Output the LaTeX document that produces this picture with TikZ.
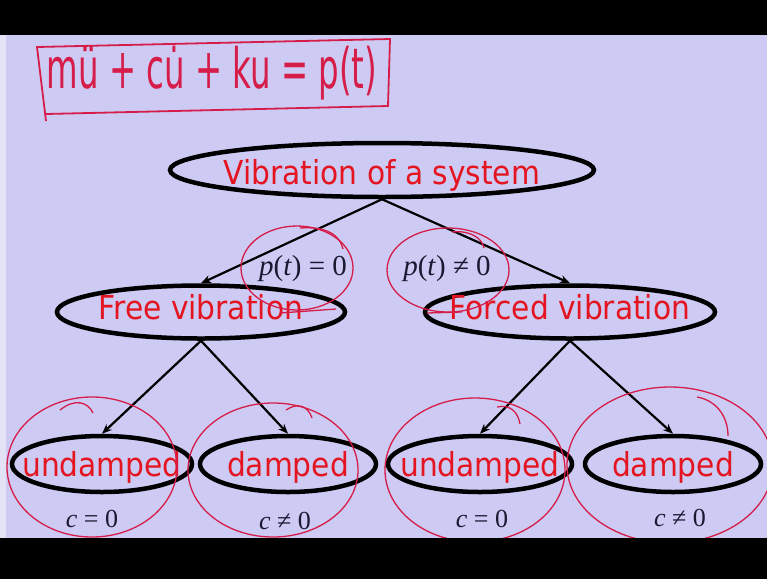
\documentclass[tikz,border=0pt]{standalone}
\usepackage{fontspec}
\usetikzlibrary{arrows.meta,shapes.geometric}
\newfontfamily\nodefont{DejaVu Sans Condensed}
\newfontfamily\handfont{DejaVu Sans Condensed}
\newfontfamily\condfont{Liberation Serif}
\definecolor{lav}{RGB}{205,203,243}
\definecolor{lavedge}{RGB}{228,226,246}
\definecolor{txtred}{RGB}{228,20,32}
\definecolor{penred}{RGB}{214,28,72}
\definecolor{mathink}{RGB}{25,25,50}
\newcommand{\vi}[1]{\textit{#1}}
\begin{document}
\begin{tikzpicture}[x=1pt,y=-1pt,
  oval/.style={ellipse, draw=black, line width=4.5pt, inner xsep=-25pt, inner ysep=-4pt,
    text depth=0pt, text=txtred, font=\nodefont\fontsize{33}{33}\selectfont},
  link/.style={line width=2.2pt, -{Stealth[length=10pt,width=8pt]}},
  pen/.style={draw=penred, line width=1.3pt},
  cond/.style={text=mathink, inner sep=1pt}]
\useasboundingbox (0,0) rectangle (767,579);
\clip (0,0) rectangle (767,579);
\fill[lav] (0,0) rectangle (767,579);
\fill[lavedge] (0,35) rectangle (6,538);

% handwritten equation
\node[text=penred, inner sep=1pt, font=\handfont\fontsize{36}{36}\selectfont] (eq) at (212,73)
  {\scalebox{1}[1.55]{m\"u + c\.u + ku = p(t)}};
\draw[pen, line width=1.8pt] (46,121) -- (37,47) -- (390,39) -- (388,106) -- (46,114);

% nodes
\node[oval, text height=28pt, minimum width=424pt, minimum height=54pt] (sys) at (382,170) {Vibration of a system};
\node[oval, text height=14pt, minimum width=288pt, minimum height=53pt] (free) at (201,312) {Free vibration};
\node[oval, text height=14pt, minimum width=290pt, minimum height=53pt] (forced) at (570,312) {Forced vibration};
\node[oval, text height=24pt, minimum width=180pt, minimum height=56pt] (u1) at (102,464) {undamped};
\node[oval, text height=24pt, minimum width=176pt, minimum height=56pt] (d1) at (288,464) {damped};
\node[oval, text height=24pt, minimum width=184pt, minimum height=56pt] (u2) at (480,464) {undamped};
\node[oval, text height=24pt, minimum width=176pt, minimum height=56pt] (d2) at (673,464) {damped};

% conditions
\node[cond, font=\condfont\fontsize{29}{29}\selectfont] (p1) at (303,269) {\vi{p}(\vi{t}) = 0};
\node[cond, font=\condfont\fontsize{29}{29}\selectfont] (p2) at (447,269) {\vi{p}(\vi{t}) ≠ 0};
\node[cond, font=\condfont\fontsize{26}{26}\selectfont] (c1) at (92,519) {\vi{c} = 0};
\node[cond, font=\condfont\fontsize{26}{26}\selectfont] (c2) at (285,521) {\vi{c} ≠ 0};
\node[cond, font=\condfont\fontsize{26}{26}\selectfont] (c3) at (482,519) {\vi{c} = 0};
\node[cond, font=\condfont\fontsize{26}{26}\selectfont] (c4) at (680,518) {\vi{c} ≠ 0};

% connectors
\draw[link] (sys.south) -- (free.north);
\draw[link] (sys.south) -- (forced.north);
\draw[link] (free.south) -- (u1.north);
\draw[link] (free.south) -- (d1.north);
\draw[link] (forced.south) -- (u2.north);
\draw[link] (forced.south) -- (d2.north);

% pen annotations
\draw[pen] (297,268) ellipse [x radius=56, y radius=42];
\draw[pen] (300,228) .. controls (328,226) and (340,236) .. (343,249);
\draw[pen] (280,313) -- (336,309);
\draw[pen] (448,270) ellipse [x radius=61, y radius=42];
\draw[pen] (452,232) .. controls (470,230) and (482,238) .. (484,248);
\draw[pen] (427,313) -- (462,312);
\draw[pen] (92,467) ellipse [x radius=85, y radius=70];
\draw[pen] (60,410) .. controls (75,398) and (88,402) .. (93,413);
\draw[pen] (273,470) ellipse [x radius=85, y radius=67];
\draw[pen] (286,410) .. controls (298,402) and (308,406) .. (312,418);
\draw[pen] (475,470) ellipse [x radius=90, y radius=72];
\draw[pen] (497,407) .. controls (510,404) and (518,412) .. (520,424);
\draw[pen] (670,465) ellipse [x radius=103, y radius=78];
\draw[pen] (697,397) .. controls (715,400) and (728,415) .. (728,436);

% black bars
\fill[black] (0,0) rectangle (767,35);
\fill[black] (0,538) rectangle (767,579);
\end{tikzpicture}
\end{document}
